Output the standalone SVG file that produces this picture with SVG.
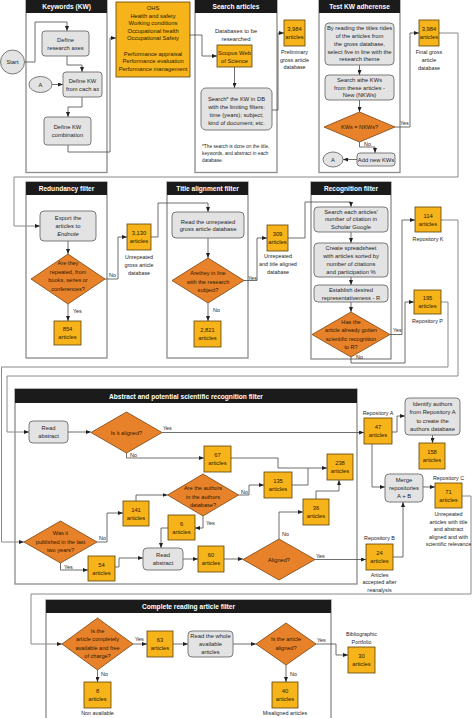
<svg xmlns="http://www.w3.org/2000/svg" width="474" height="718" viewBox="0 0 474 718">
<style>
.bg{fill:#fff}
.pn{fill:#fff;stroke:#8c8c8c;stroke-width:1.3}
.hd{fill:#1b1b1b}
.h{font-family:"Liberation Sans",Arial,sans-serif;font-size:6.6px;font-weight:bold;fill:#fff;text-anchor:middle}
.art{fill:#F6B31A;stroke:#5e4208;stroke-width:0.8}
.dia{fill:#E8822A;stroke:#7a4410;stroke-width:0.8}
.pr{fill:#E3E3E3;stroke:#6d6d6d;stroke-width:0.9}
.t{font-family:"Liberation Sans",Arial,sans-serif;font-size:5.8px;fill:#1f1f1f;text-anchor:middle}
.a{font-family:"Liberation Sans",Arial,sans-serif;font-size:5.8px;fill:#2a1d00;text-anchor:middle}
.d{font-family:"Liberation Sans",Arial,sans-serif;font-size:5.6px;fill:#2e1800;text-anchor:middle}
.lb{font-family:"Liberation Sans",Arial,sans-serif;font-size:5.4px;fill:#262626;text-anchor:middle}
.yn{font-family:"Liberation Sans",Arial,sans-serif;font-size:5.4px;fill:#262626;text-anchor:start}
.fn{font-family:"Liberation Sans",Arial,sans-serif;font-size:4.8px;fill:#262626;text-anchor:start}
.c{fill:none;stroke:#4a4a4a;stroke-width:0.8;marker-end:url(#ar)}
.cn{fill:none;stroke:#4a4a4a;stroke-width:0.8}
.lp{fill:none;stroke:#8a8a8a;stroke-width:1;marker-end:url(#ar)}
</style>
<defs>
<marker id="ar" markerWidth="5" markerHeight="4" refX="5" refY="2" orient="auto" markerUnits="userSpaceOnUse"><path d="M0,0 L5,2 L0,4 Z" fill="#222"/></marker>
</defs>
<rect class="bg" x="0" y="0" width="474" height="718"/>

<g id="panels">
<rect class="pn" x="26" y="0.5" width="81" height="172"/><rect class="hd" x="26" y="0" width="81" height="13"/><text class="h" x="66.5" y="9">Keywords (KW)</text>
<rect class="pn" x="195" y="0.5" width="82" height="172"/><rect class="hd" x="195" y="0" width="82" height="13"/><text class="h" x="236" y="9">Search articles</text>
<rect class="pn" x="319" y="0.5" width="81" height="172"/><rect class="hd" x="319" y="0" width="81" height="13"/><text class="h" x="359.5" y="9">Test KW adherense</text>
<rect class="pn" x="26" y="182" width="81" height="176"/><rect class="hd" x="26" y="182" width="81" height="13"/><text class="h" x="66.5" y="191">Redundancy filter</text>
<rect class="pn" x="167" y="182" width="81" height="176"/><rect class="hd" x="167" y="182" width="81" height="13"/><text class="h" x="207.5" y="191">Title alignment filter</text>
<rect class="pn" x="311" y="182" width="80" height="177"/><rect class="hd" x="311" y="182" width="80" height="13"/><text class="h" x="351" y="191">Recognition filter</text>
<rect class="pn" x="15" y="389" width="342" height="195"/><rect class="hd" x="15" y="389" width="342" height="14"/><text class="h" x="186" y="398.5">Abstract and potential scientific recognition filter</text>
<rect class="pn" x="46" y="600" width="285" height="130"/><rect class="hd" x="46" y="600" width="285" height="13"/><text class="h" x="188.5" y="609">Complete reading article filter</text>
</g>

<g id="connectors">
<path class="c" d="M25,62 H35 V22 H67 V31"/>
<path class="c" d="M67,56 V65 H82 V72"/>
<path class="c" d="M52,84.5 H63"/>
<path class="c" d="M82,97 V107 H68 V117"/>
<path class="c" d="M68,145 V152 H110 V38 H116"/>
<path class="c" d="M190,35 H202 V56 H217"/>
<path class="c" d="M234.5,67 V88"/>
<path class="c" d="M272,110 H278 V33 H284"/>
<path class="c" d="M359.5,65 V75"/>
<path class="c" d="M359.5,100 V112"/>
<path class="c" d="M395,127 H410 V33 H419"/>
<path class="c" d="M359.5,142 V147 H375 V153"/>
<path class="c" d="M357,159.5 H343"/>
<path class="lp" d="M439,33 H458 V177 H14 V226 H40"/>
<path class="c" d="M68,241 V254"/>
<path class="c" d="M68,304 V321"/>
<path class="c" d="M105,279 H118 V237 H127"/>
<path class="c" d="M151,237 H158 V203 H208 V212"/>
<path class="c" d="M208,238 V258"/>
<path class="c" d="M208,303 V321"/>
<path class="c" d="M244,280.5 H257 V238 H267"/>
<path class="c" d="M288,238 H305 V202 H351 V207"/>
<path class="c" d="M351,232 V243"/>
<path class="c" d="M351,277 V285"/>
<path class="c" d="M351,302 V312"/>
<path class="c" d="M390,334.5 H402 V220 H415"/>
<path class="c" d="M351,357 V363 H405 V302 H414"/>
<path class="lp" d="M441,220 H458 V376 H7 V432 H29"/>
<path class="lp" d="M441,302 H448 V367 H1.5 V542 H24"/>
<path class="c" d="M68,432 H91"/>
<path class="c" d="M162,432.5 H364"/>
<path class="c" d="M126.5,453 V458 H204"/>
<path class="c" d="M231,458 H278 V468 H327"/>
<path class="c" d="M238.5,495 H249 V485 H264"/>
<path class="cn" d="M292,485 H308 V468"/>
<path class="c" d="M316,499 V491 H339 V480"/>
<path class="c" d="M136,501 V495 H167.5"/>
<path class="c" d="M60.5,563 V570 H88"/>
<path class="c" d="M97,542 H107 V513 H123"/>
<path class="c" d="M115,567 H119 V558 H143"/>
<path class="c" d="M168,528 H161 V548"/>
<path class="c" d="M203,516 V528 H195"/>
<path class="c" d="M183,559 H198"/>
<path class="c" d="M224,559 H243"/>
<path class="c" d="M279,539 V512 H303"/>
<path class="c" d="M315,559.5 H366"/>
<path class="c" d="M393,557 H403 V502"/>
<path class="c" d="M392,432 H397 V416 H405"/>
<path class="c" d="M432.5,435 V443"/>
<path class="c" d="M372,444 V487 H385"/>
<path class="c" d="M423,487 H435"/>
<path class="lp" d="M462,496 H471 V594 H31 V644 H62"/>
<path class="c" d="M133,644 H147"/>
<path class="c" d="M97.5,670 V682"/>
<path class="c" d="M173,644 H188"/>
<path class="c" d="M233,644 H256"/>
<path class="c" d="M316,644 H336 V655 H348"/>
<path class="c" d="M286,665 V682"/>
</g>

<g id="labels">
<text class="yn" x="400" y="125">Yes</text>
<text class="yn" x="364" y="145.5">No</text>
<text class="yn" x="73" y="313">Yes</text>
<text class="yn" x="109" y="277">No</text>
<text class="yn" x="213" y="312">No</text>
<text class="yn" x="248" y="279.5">Yes</text>
<text class="yn" x="393" y="332">Yes</text>
<text class="yn" x="356" y="359">No</text>
<text class="yn" x="163" y="430">Yes</text>
<text class="yn" x="130" y="457">No</text>
<text class="yn" x="241" y="493.5">No</text>
<text class="yn" x="64" y="569">Yes</text>
<text class="yn" x="99" y="540">No</text>
<text class="yn" x="206" y="525">Yes</text>
<text class="yn" x="282" y="536">No</text>
<text class="yn" x="316" y="557.5">Yes</text>
<text class="yn" x="135" y="641">Yes</text>
<text class="yn" x="101" y="676">No</text>
<text class="yn" x="317" y="641.5">Yes</text>
<text class="yn" x="290" y="676">No</text>
</g>

<g id="start"><ellipse class="pr" cx="12.5" cy="62" rx="12" ry="12"/><text class="t" x="12.5" y="64">Start</text></g>
<g id="define-axes"><rect class="pr" x="42" y="31" width="47" height="25" rx="3"/><text class="t" x="65.5" y="41.5">Define</text><text class="t" x="65.5" y="49.5">research axes</text></g>
<g id="a1"><ellipse class="pr" cx="40.5" cy="84.5" rx="11.5" ry="8"/><text class="t" x="40.5" y="86.5">A</text></g>
<g id="define-kw"><rect class="pr" x="63" y="72" width="39" height="25" rx="3"/><text class="t" x="82.5" y="82.5">Define KW</text><text class="t" x="82.5" y="90.5">from cach ax</text></g>
<g id="define-comb"><rect class="pr" x="44" y="117" width="47" height="28" rx="3"/><text class="t" x="67.5" y="129">Define KW</text><text class="t" x="67.5" y="137">combination</text></g>

<g id="kw-list"><rect class="art" x="116" y="2" width="74" height="75"/>
<text class="a" x="153" y="10">OHS</text><text class="a" x="153" y="17.5">Health and safety</text><text class="a" x="153" y="25">Working conditions</text><text class="a" x="153" y="32.5">Occupational health</text><text class="a" x="153" y="40">Occupational Safety</text>
<text class="a" x="153" y="55.5">Performance appraisal</text><text class="a" x="153" y="63">Performance evaluation</text><text class="a" x="153" y="70.5">Performance management</text></g>

<g id="databases"><text class="t" x="236" y="33">Databases to be</text><text class="t" x="236" y="41">researched</text></g>
<g id="scopus"><rect class="art" x="217" y="45" width="35" height="22"/><text class="a" x="234.5" y="54.5">Scopus Web</text><text class="a" x="234.5" y="62.5">of Science</text></g>
<g id="search"><rect class="pr" x="201" y="88" width="71" height="42" rx="5"/><text class="t" x="236.5" y="101">Search* the KW in DB</text><text class="t" x="236.5" y="109">with the limiting filters:</text><text class="t" x="236.5" y="117">time (years); subject;</text><text class="t" x="236.5" y="125">kind of document; etc.</text></g>
<g id="footnote"><text class="fn" x="202" y="147.5">*The search is done on the title,</text><text class="fn" x="202" y="154.5">keywords, and abstract in each</text><text class="fn" x="202" y="161.5">database.</text></g>
<g id="n3984a"><rect class="art" x="284" y="20" width="21" height="26"/><text class="a" x="294.5" y="31">3,984</text><text class="a" x="294.5" y="39">articles</text><text class="lb" x="294.5" y="54">Preliminary</text><text class="lb" x="294.5" y="61.5">gross article</text><text class="lb" x="294.5" y="69">database</text></g>

<g id="reading-titles"><rect class="pr" x="325" y="23" width="69" height="42" rx="4"/><text class="t" x="359.5" y="30">By reading the titles rides</text><text class="t" x="359.5" y="38">of the articles from</text><text class="t" x="359.5" y="45.5">the gross database,</text><text class="t" x="359.5" y="53.5">select five in line with the</text><text class="t" x="359.5" y="61">research theme</text></g>
<g id="search-kws"><rect class="pr" x="325" y="75" width="69" height="25" rx="4"/><text class="t" x="359.5" y="82">Search athe KWs</text><text class="t" x="359.5" y="89.5">from these articles -</text><text class="t" x="359.5" y="97">New (NKWs)</text></g>
<g id="kw-eq"><polygon class="dia" points="359.5,112 395,127 359.5,142 324,127"/><text class="d" x="359.5" y="129">KWs = NKWs?</text></g>
<g id="add-kws"><rect class="pr" x="357" y="153" width="38" height="13" rx="3"/><text class="t" x="376" y="161.5">Add new KWs</text></g>
<g id="a2"><ellipse class="pr" cx="333" cy="159.5" rx="10" ry="7.5"/><text class="t" x="333" y="161.5">A</text></g>
<g id="n3984b"><rect class="art" x="419" y="20" width="20" height="26"/><text class="a" x="429" y="31">3,984</text><text class="a" x="429" y="39">articles</text><text class="lb" x="429" y="54">Final gross</text><text class="lb" x="429" y="62">article</text><text class="lb" x="429" y="70">database</text></g>

<g id="export"><rect class="pr" x="40" y="211" width="56" height="30" rx="4"/><text class="t" x="68" y="219.5">Export the</text><text class="t" x="68" y="227.5">articles to</text><text class="t" x="68" y="235.5" font-style="italic">Endnote</text></g>
<g id="repeated"><polygon class="dia" points="68,254 105,279 68,304 31,279"/><text class="d" x="68" y="265">Are they</text><text class="d" x="68" y="273.5">repeated, from</text><text class="d" x="68" y="282">books, series or</text><text class="d" x="68" y="290.5">conferences?</text></g>
<g id="n854"><rect class="art" x="54" y="321" width="27" height="24"/><text class="a" x="67.5" y="331">854</text><text class="a" x="67.5" y="339">articles</text></g>
<g id="n3130"><rect class="art" x="127" y="224" width="24" height="26"/><text class="a" x="139" y="235">3,130</text><text class="a" x="139" y="243">articles</text><text class="lb" x="139" y="258.5">Unrepeated</text><text class="lb" x="139" y="266.5">gross article</text><text class="lb" x="139" y="274.5">database</text></g>

<g id="read-unrep"><rect class="pr" x="172" y="212" width="72" height="26" rx="4"/><text class="t" x="208" y="223.5">Read the unrepeated</text><text class="t" x="208" y="231">gross article database</text></g>
<g id="inline"><polygon class="dia" points="208,258 244,280.5 208,303 172,280.5"/><text class="d" x="208" y="275">Arethey in line</text><text class="d" x="208" y="283.5">with the research</text><text class="d" x="208" y="292">subject?</text></g>
<g id="n2821"><rect class="art" x="194" y="321" width="27" height="26"/><text class="a" x="207.5" y="332">2,821</text><text class="a" x="207.5" y="340">articles</text></g>
<g id="n309"><rect class="art" x="267" y="225" width="21" height="26"/><text class="a" x="277.5" y="236">309</text><text class="a" x="277.5" y="244">articles</text><text class="lb" x="278" y="258">Unrepeated</text><text class="lb" x="278" y="266">and title aligned</text><text class="lb" x="278" y="274">database</text></g>

<g id="cit"><rect class="pr" x="314" y="207" width="74" height="25" rx="4"/><text class="t" x="351" y="213.5">Search each articles'</text><text class="t" x="351" y="221">number of citation in</text><text class="t" x="351" y="228.5">Scholar Google</text></g>
<g id="sheet"><rect class="pr" x="314" y="243" width="74" height="34" rx="4"/><text class="t" x="351" y="250">Create spreadsheet</text><text class="t" x="351" y="258">with articles sorted by</text><text class="t" x="351" y="266">number of citations</text><text class="t" x="351" y="274">and participation %</text></g>
<g id="repr"><rect class="pr" x="314" y="285" width="74" height="17" rx="4"/><text class="t" x="351" y="292">Establish desired</text><text class="t" x="351" y="299.5">representativeness - R</text></g>
<g id="recog"><polygon class="dia" points="351,312 390,334.5 351,357 312,334.5"/><text class="d" x="351" y="324">Has the</text><text class="d" x="351" y="332.3">article already gotten</text><text class="d" x="351" y="340.6">scientific recognition</text><text class="d" x="351" y="349">to R?</text></g>
<g id="n114"><rect class="art" x="415" y="207" width="26" height="25"/><text class="a" x="428" y="218">114</text><text class="a" x="428" y="226">articles</text><text class="lb" x="428" y="241">Repository K</text></g>
<g id="n195"><rect class="art" x="414" y="290" width="27" height="24"/><text class="a" x="427.5" y="300">195</text><text class="a" x="427.5" y="308">articles</text><text class="lb" x="427.5" y="323">Repository P</text></g>

<g id="read-abs1"><rect class="pr" x="29" y="421" width="39" height="22" rx="4"/><text class="t" x="48.5" y="430">Read</text><text class="t" x="48.5" y="438">abstract</text></g>
<g id="aligned1"><polygon class="dia" points="126.5,412 162,432.5 126.5,453 91,432.5"/><text class="d" x="126.5" y="434.5">Is it aligned?</text></g>
<g id="n67"><rect class="art" x="204" y="446" width="27" height="26"/><text class="a" x="217.5" y="457">67</text><text class="a" x="217.5" y="465">articles</text></g>
<g id="n238"><rect class="art" x="327" y="454" width="26" height="26"/><text class="a" x="340" y="465">238</text><text class="a" x="340" y="473">articles</text></g>
<g id="authors"><polygon class="dia" points="203,474 238.5,495 203,516 167.5,495"/><text class="d" x="203" y="490">Are the authors</text><text class="d" x="203" y="498.5">in the authors</text><text class="d" x="203" y="507">database?</text></g>
<g id="n135"><rect class="art" x="264" y="472" width="28" height="26"/><text class="a" x="278" y="483">135</text><text class="a" x="278" y="491">articles</text></g>
<g id="n36"><rect class="art" x="303" y="499" width="26" height="26"/><text class="a" x="316" y="510">36</text><text class="a" x="316" y="518">articles</text></g>
<g id="n141"><rect class="art" x="123" y="501" width="26" height="25"/><text class="a" x="136" y="511.5">141</text><text class="a" x="136" y="519.5">articles</text></g>
<g id="published"><polygon class="dia" points="60.5,521 97,542 60.5,563 24,542"/><text class="d" x="60.5" y="535">Was it</text><text class="d" x="60.5" y="543.5">published in the last</text><text class="d" x="60.5" y="552">two years?</text></g>
<g id="n54"><rect class="art" x="88" y="556" width="27" height="25"/><text class="a" x="101.5" y="566.5">54</text><text class="a" x="101.5" y="574.5">articles</text></g>
<g id="read-abs2"><rect class="pr" x="143" y="548" width="40" height="22" rx="4"/><text class="t" x="163" y="557">Read</text><text class="t" x="163" y="565">abstract</text></g>
<g id="n6"><rect class="art" x="168" y="515" width="27" height="25"/><text class="a" x="181.5" y="525.5">6</text><text class="a" x="181.5" y="533.5">articles</text></g>
<g id="n60"><rect class="art" x="198" y="546" width="26" height="26"/><text class="a" x="211" y="557">60</text><text class="a" x="211" y="565">articles</text></g>
<g id="aligned2"><polygon class="dia" points="279,539 315,559.5 279,580 243,559.5"/><text class="d" x="279" y="561.5">Aligned?</text></g>
<g id="n24"><rect class="art" x="366" y="544" width="27" height="26"/><text class="a" x="379.5" y="555">24</text><text class="a" x="379.5" y="563">articles</text><text class="lb" x="379.5" y="540">Repository B</text><text class="lb" x="379.5" y="576.5">Articles</text><text class="lb" x="379.5" y="584">accepted after</text><text class="lb" x="379.5" y="591.5">reanalysis</text></g>
<g id="n47"><rect class="art" x="364" y="418" width="28" height="26"/><text class="a" x="378" y="429">47</text><text class="a" x="378" y="437">articles</text><text class="lb" x="378" y="415">Repository A</text></g>
<g id="identify"><rect class="pr" x="405" y="398" width="55" height="37" rx="4"/><text class="t" x="432.5" y="406">Identify authors</text><text class="t" x="432.5" y="414">from Repository A</text><text class="t" x="432.5" y="422.5">to create the</text><text class="t" x="432.5" y="431">authors database</text></g>
<g id="n158"><rect class="art" x="419" y="443" width="26" height="26"/><text class="a" x="432" y="454">158</text><text class="a" x="432" y="462">articles</text></g>
<g id="merge"><rect class="pr" x="385" y="474" width="38" height="28" rx="4"/><text class="t" x="404" y="481.5">Merge</text><text class="t" x="404" y="489.5">repositories</text><text class="t" x="404" y="497.5">A + B</text></g>
<g id="n71"><rect class="art" x="435" y="483" width="27" height="25"/><text class="a" x="448.5" y="494">71</text><text class="a" x="448.5" y="502">articles</text><text class="lb" x="448.5" y="480">Repository C</text><text class="lb" x="448.5" y="516">Unrepeated</text><text class="lb" x="448.5" y="523.5">articles with title</text><text class="lb" x="448.5" y="531">and abstract</text><text class="lb" x="448.5" y="538.5">aligned and with</text><text class="lb" x="448.5" y="546">scientific relevance</text></g>

<g id="free"><polygon class="dia" points="97.5,618 133,644 97.5,670 62,644"/><text class="d" x="97.5" y="633">Is the</text><text class="d" x="97.5" y="641.3">article completely</text><text class="d" x="97.5" y="649.6">available and free</text><text class="d" x="97.5" y="658">of charge?</text></g>
<g id="n63"><rect class="art" x="147" y="631" width="26" height="26"/><text class="a" x="160" y="642">63</text><text class="a" x="160" y="650">articles</text></g>
<g id="read-whole"><rect class="pr" x="188" y="631" width="45" height="26" rx="4"/><text class="t" x="210.5" y="638">Read the whole</text><text class="t" x="210.5" y="646">available</text><text class="t" x="210.5" y="654">articles</text></g>
<g id="aligned3"><polygon class="dia" points="286,623 316,644 286,665 256,644"/><text class="d" x="286" y="641">Is the article</text><text class="d" x="286" y="650">aligned?</text></g>
<g id="n8"><rect class="art" x="84" y="682" width="27" height="26"/><text class="a" x="97.5" y="693">8</text><text class="a" x="97.5" y="701">articles</text><text class="lb" x="97.5" y="715">Non available</text></g>
<g id="n40"><rect class="art" x="272" y="682" width="26" height="26"/><text class="a" x="285" y="693">40</text><text class="a" x="285" y="701">articles</text><text class="lb" x="285" y="715">Misaligned articles</text></g>
<g id="n30"><rect class="art" x="348" y="647" width="27" height="26"/><text class="a" x="361.5" y="658">30</text><text class="a" x="361.5" y="666">articles</text><text class="lb" x="361.5" y="636">Bibliographic</text><text class="lb" x="361.5" y="643.5">Portfolio</text></g>
</svg>
